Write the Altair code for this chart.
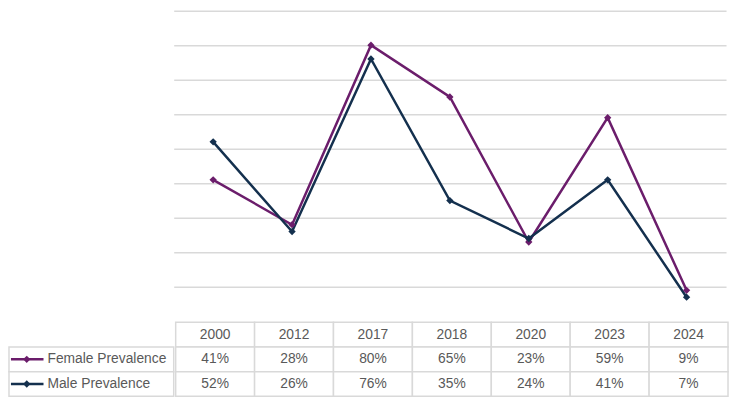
import altair as alt
import pandas as pd

years = ["2000", "2012", "2017", "2018", "2020", "2023", "2024"]
female = [0.41, 0.28, 0.80, 0.65, 0.23, 0.59, 0.09]
male = [0.52, 0.26, 0.76, 0.35, 0.24, 0.41, 0.07]
series = ["Female Prevalence", "Male Prevalence"]
colors = ["#6B1D6B", "#14304E"]
grid_values = [0.1, 0.2, 0.3, 0.4, 0.5, 0.6, 0.7, 0.8, 0.9]

FONT = "Liberation Sans"
GRID = "#D9D9D9"
TXT = "#595959"
LEFT_W = 167
PLOT_W = 560
PLOT_H = 315
TABLE_H = 75

rows = []
for s, vals in zip(series, [female, male]):
    for y, v in zip(years, vals):
        rows.append({"Year": y, "Series": s, "Value": v})
df = pd.DataFrame(rows)

color_scale = alt.Scale(domain=series, range=colors)
x_line = alt.X("Year:N", sort=years, scale=alt.Scale(type="point", padding=0.5, domain=years), axis=None)
y_line = alt.Y("Value:Q", scale=alt.Scale(domain=[0, 0.9], nice=False, zero=True),
               axis=alt.Axis(values=grid_values, labels=False, ticks=False, domain=False,
                             title=None, grid=True, gridColor=GRID, gridWidth=1.5))

base = alt.Chart(df).encode(x=x_line, y=y_line,
                            color=alt.Color("Series:N", scale=color_scale, legend=None))
lines = base.mark_line(strokeWidth=2.5)
points = base.mark_point(shape="diamond", filled=True, size=55, opacity=1)
line_chart = alt.layer(lines, points).properties(width=PLOT_W, height=PLOT_H)

spacer = alt.Chart(pd.DataFrame({"a": [0]})).mark_rect(opacity=0).encode(
    x=alt.value(0), x2=alt.value(LEFT_W), y=alt.value(0), y2=alt.value(PLOT_H)
).properties(width=LEFT_W, height=PLOT_H)

# table
row_keys = ["Year", "Female Prevalence", "Male Prevalence"]
cells = [{"Year": y, "Row": "Year", "Label": y} for y in years]
for s, vals in zip(series, [female, male]):
    for y, v in zip(years, vals):
        cells.append({"Year": y, "Row": s, "Label": f"{round(v*100)}%"})
cdf = pd.DataFrame(cells)

row_scale = alt.Scale(domain=row_keys, paddingInner=0, paddingOuter=0)
x_tab = alt.X("Year:N", sort=years, scale=alt.Scale(domain=years, paddingInner=0, paddingOuter=0), axis=None)
y_tab = alt.Y("Row:N", sort=row_keys, scale=row_scale, axis=None)

tab_base = alt.Chart(cdf).encode(x=x_tab, y=y_tab)
tab_rect = tab_base.mark_rect(fill="white", stroke=GRID, strokeWidth=1.5)
tab_text = tab_base.mark_text(font=FONT, fontSize=14, color=TXT).encode(text="Label:N")
table = alt.layer(tab_rect, tab_text).properties(width=PLOT_W, height=TABLE_H)

# label column
ldf = pd.DataFrame({"Row": series, "Color": colors})
y_lab = alt.Y("Row:N", sort=row_keys, scale=row_scale, axis=None)
y_mid = alt.Y("Row:N", sort=row_keys, bandPosition=0.5, scale=row_scale, axis=None)
lab_base = alt.Chart(ldf)
lab_rect = lab_base.mark_rect(fill="white", stroke=GRID, strokeWidth=1.5).encode(
    x=alt.value(0), x2=alt.value(LEFT_W), y=y_lab)
lab_rule = lab_base.mark_rule(strokeWidth=2.5).encode(
    x=alt.value(2), x2=alt.value(35), y=y_mid, color=alt.Color("Color:N", scale=None))
lab_pt = lab_base.mark_point(shape="diamond", filled=True, size=55, opacity=1).encode(
    x=alt.value(18), y=y_mid, color=alt.Color("Color:N", scale=None))
lab_text = lab_base.mark_text(font=FONT, fontSize=14, color=TXT, align="left").encode(
    x=alt.value(39), y=y_mid, text="Row:N")
labels = alt.layer(lab_rect, lab_rule, lab_pt, lab_text).properties(width=LEFT_W, height=TABLE_H)

top = alt.hconcat(spacer, line_chart, spacing=0)
bottom = alt.hconcat(labels, table, spacing=0)
chart = alt.vconcat(top, bottom, spacing=0).configure(
    background="white", padding=0,
    view=alt.ViewConfig(stroke=None),
    concat=alt.CompositionConfig(spacing=0),
)

chart.save("out.html", embed_options={"renderer": "svg", "actions": False})
